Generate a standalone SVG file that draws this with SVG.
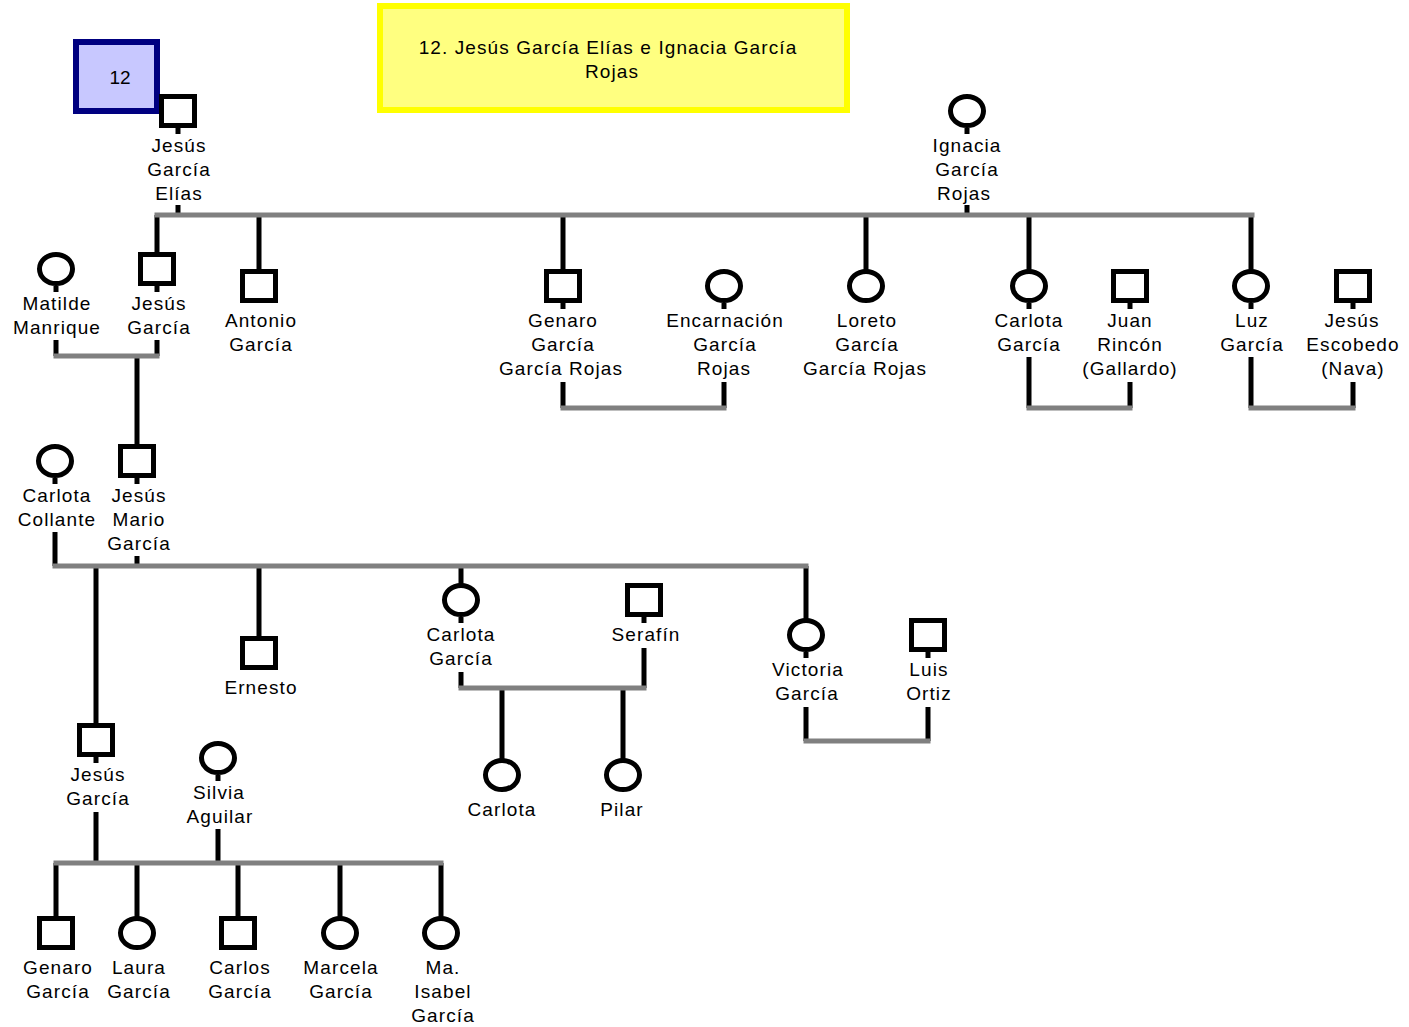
<svg xmlns="http://www.w3.org/2000/svg" width="1409" height="1027" viewBox="0 0 1409 1027">
<style>
.sym{fill:#fff;stroke:#000;stroke-width:5}
.bl{stroke:#000;stroke-width:5;fill:none}
.gr{stroke:#808080;stroke-width:5;fill:none}
text{font-family:"Liberation Sans",Arial,sans-serif;font-size:19px;fill:#000;text-anchor:middle;letter-spacing:1.1px}
</style>
<rect width="1409" height="1027" fill="#fff"/>
<g id="title">
<rect x="380" y="6" width="467" height="104" fill="#ffff80" stroke="#ffff00" stroke-width="6"/>
<text x="608" y="54">12. Jesús García Elías e Ignacia García</text>
<text x="612" y="78">Rojas</text>
</g>
<g id="badge">
<rect x="76" y="42" width="81" height="69" fill="#c8c8ff" stroke="#000080" stroke-width="6"/>
<text x="120" y="84" style="letter-spacing:0">12</text>
</g>
<g id="connectors">
<path class="bl" d="M178 205V215M967 205V215M157 215V254M259 215V271M563 215V271M866 215V271M1029 215V271M1251 215V271"/>
<path class="gr" d="M154.5 215H1254.5"/>
<path class="bl" d="M56 340V356M157 340V356M137 356V446"/>
<path class="gr" d="M53.5 356H159.5"/>
<path class="bl" d="M563 382V408M724 382V408M1029 357V408M1130 382V408M1251 357V408M1353 382V408"/>
<path class="gr" d="M560.5 408H726.5M1026.5 408H1132.5M1248.5 408H1355.5"/>
<path class="bl" d="M55 532V566M137 556V566M96 566V725M259 566V638M461 566V585M806 566V620"/>
<path class="gr" d="M52.5 566H808.5"/>
<path class="bl" d="M461 672V688M644 648V688M502 688V760M623 688V760"/>
<path class="gr" d="M458.5 688H646.5"/>
<path class="bl" d="M806 707V741M928 707V741"/>
<path class="gr" d="M803.5 741H930.5"/>
<path class="bl" d="M96 812V863M218 829V863M56 863V918M137 863V918M238 863V918M340 863V918M441 863V918"/>
<path class="gr" d="M53.5 863H443.5"/>
</g>
<g id="jesus-garcia-elias">
<rect class="sym" x="161.5" y="96.5" width="33" height="29"/>
<path class="bl" d="M178 128V134"/>
<text x="179" y="152">Jesús</text><text x="179" y="176">García</text><text x="179" y="200">Elías</text>
</g>
<g id="ignacia-garcia-rojas">
<ellipse class="sym" cx="967" cy="111" rx="16.5" ry="14.5"/>
<path class="bl" d="M967 128V134"/>
<text x="967" y="152">Ignacia</text><text x="967" y="176">García</text><text x="964" y="200">Rojas</text>
</g>
<g id="matilde-manrique">
<ellipse class="sym" cx="56" cy="269" rx="16.5" ry="14.5"/>
<path class="bl" d="M56 286V292"/>
<text x="57" y="310">Matilde</text><text x="57" y="334">Manrique</text>
</g>
<g id="jesus-garcia-1">
<rect class="sym" x="140.5" y="254.5" width="33" height="29"/>
<path class="bl" d="M157 286V292"/>
<text x="159" y="310">Jesús</text><text x="159" y="334">García</text>
</g>
<g id="antonio-garcia">
<rect class="sym" x="242.5" y="271.5" width="33" height="29"/>
<text x="261" y="327">Antonio</text><text x="261" y="351">García</text>
</g>
<g id="genaro-garcia-garcia-rojas">
<rect class="sym" x="546.5" y="271.5" width="33" height="29"/>
<path class="bl" d="M563 303V309"/>
<text x="563" y="327">Genaro</text><text x="563" y="351">García</text><text x="561" y="375">García Rojas</text>
</g>
<g id="encarnacion-garcia-rojas">
<ellipse class="sym" cx="724" cy="286" rx="16.5" ry="14.5"/>
<path class="bl" d="M724 303V309"/>
<text x="725" y="327">Encarnación</text><text x="725" y="351">García</text><text x="724" y="375">Rojas</text>
</g>
<g id="loreto-garcia-garcia-rojas">
<ellipse class="sym" cx="866" cy="286" rx="16.5" ry="14.5"/>
<text x="867" y="327">Loreto</text><text x="867" y="351">García</text><text x="865" y="375">García Rojas</text>
</g>
<g id="carlota-garcia-1">
<ellipse class="sym" cx="1029" cy="286" rx="16.5" ry="14.5"/>
<path class="bl" d="M1029 303V309"/>
<text x="1029" y="327">Carlota</text><text x="1029" y="351">García</text>
</g>
<g id="juan-rincon-gallardo">
<rect class="sym" x="1113.5" y="271.5" width="33" height="29"/>
<path class="bl" d="M1130 303V309"/>
<text x="1130" y="327">Juan</text><text x="1130" y="351">Rincón</text><text x="1130" y="375">(Gallardo)</text>
</g>
<g id="luz-garcia">
<ellipse class="sym" cx="1251" cy="286" rx="16.5" ry="14.5"/>
<path class="bl" d="M1251 303V309"/>
<text x="1252" y="327">Luz</text><text x="1252" y="351">García</text>
</g>
<g id="jesus-escobedo-nava">
<rect class="sym" x="1336.5" y="271.5" width="33" height="29"/>
<path class="bl" d="M1353 303V309"/>
<text x="1352" y="327">Jesús</text><text x="1353" y="351">Escobedo</text><text x="1353" y="375">(Nava)</text>
</g>
<g id="carlota-collante">
<ellipse class="sym" cx="55" cy="461" rx="16.5" ry="14.5"/>
<path class="bl" d="M55 478V484"/>
<text x="57" y="502">Carlota</text><text x="57" y="526">Collante</text>
</g>
<g id="jesus-mario-garcia">
<rect class="sym" x="120.5" y="446.5" width="33" height="29"/>
<path class="bl" d="M137 478V484"/>
<text x="139" y="502">Jesús</text><text x="139" y="526">Mario</text><text x="139" y="550">García</text>
</g>
<g id="ernesto">
<rect class="sym" x="242.5" y="638.5" width="33" height="29"/>
<text x="261" y="694">Ernesto</text>
</g>
<g id="carlota-garcia-2">
<ellipse class="sym" cx="461" cy="600" rx="16.5" ry="14.5"/>
<path class="bl" d="M461 617V623"/>
<text x="461" y="641">Carlota</text><text x="461" y="665">García</text>
</g>
<g id="serafin">
<rect class="sym" x="627.5" y="585.5" width="33" height="29"/>
<path class="bl" d="M644 617V623"/>
<text x="646" y="641">Serafín</text>
</g>
<g id="carlota">
<ellipse class="sym" cx="502" cy="775" rx="16.5" ry="14.5"/>
<text x="502" y="816">Carlota</text>
</g>
<g id="pilar">
<ellipse class="sym" cx="623" cy="775" rx="16.5" ry="14.5"/>
<text x="622" y="816">Pilar</text>
</g>
<g id="victoria-garcia">
<ellipse class="sym" cx="806" cy="635" rx="16.5" ry="14.5"/>
<path class="bl" d="M806 652V658"/>
<text x="808" y="676">Victoria</text><text x="807" y="700">García</text>
</g>
<g id="luis-ortiz">
<rect class="sym" x="911.5" y="620.5" width="33" height="29"/>
<path class="bl" d="M928 652V658"/>
<text x="929" y="676">Luis</text><text x="929" y="700">Ortiz</text>
</g>
<g id="jesus-garcia-2">
<rect class="sym" x="79.5" y="725.5" width="33" height="29"/>
<path class="bl" d="M96 757V763"/>
<text x="98" y="781">Jesús</text><text x="98" y="805">García</text>
</g>
<g id="silvia-aguilar">
<ellipse class="sym" cx="218" cy="758" rx="16.5" ry="14.5"/>
<path class="bl" d="M218 775V781"/>
<text x="219" y="799">Silvia</text><text x="220" y="823">Aguilar</text>
</g>
<g id="genaro-garcia">
<rect class="sym" x="39.5" y="918.5" width="33" height="29"/>
<text x="58" y="974">Genaro</text><text x="58" y="998">García</text>
</g>
<g id="laura-garcia">
<ellipse class="sym" cx="137" cy="933" rx="16.5" ry="14.5"/>
<text x="139" y="974">Laura</text><text x="139" y="998">García</text>
</g>
<g id="carlos-garcia">
<rect class="sym" x="221.5" y="918.5" width="33" height="29"/>
<text x="240" y="974">Carlos</text><text x="240" y="998">García</text>
</g>
<g id="marcela-garcia">
<ellipse class="sym" cx="340" cy="933" rx="16.5" ry="14.5"/>
<text x="341" y="974">Marcela</text><text x="341" y="998">García</text>
</g>
<g id="ma-isabel-garcia">
<ellipse class="sym" cx="441" cy="933" rx="16.5" ry="14.5"/>
<text x="443" y="974">Ma.</text><text x="443" y="998">Isabel</text><text x="443" y="1022">García</text>
</g>
</svg>
